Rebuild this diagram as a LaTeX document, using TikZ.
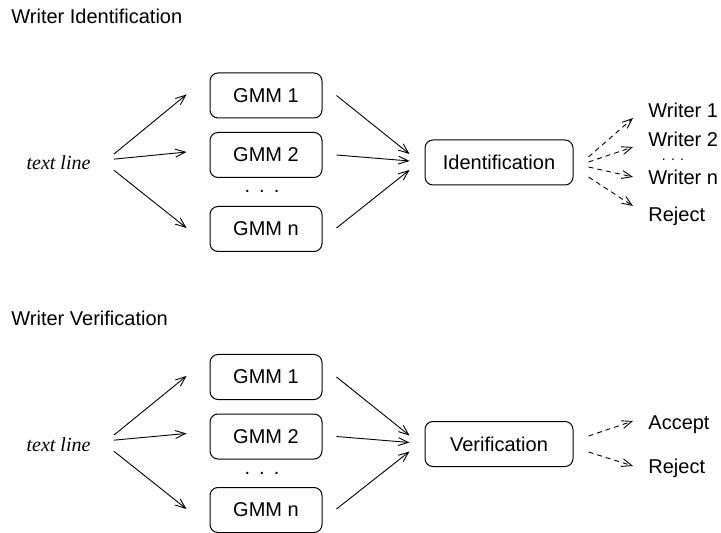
\documentclass[tikz,border=0pt]{standalone}
\usepackage{fontspec}
\setmainfont{Liberation Sans}
\newfontfamily\timesfont{Liberation Serif}
\usetikzlibrary{arrows.meta,calc}
\begin{document}
\begin{tikzpicture}[x=0.5pt,y=-0.5pt,
  font=\fontsize{10}{12}\selectfont,
  box/.style={draw,rounded corners=4pt,inner sep=0pt,minimum height=22.5pt,line width=0.5pt},
  gmm/.style={box,minimum width=56pt},
  dec/.style={box,minimum width=74pt},
  lbl/.style={inner sep=0pt,anchor=base west},
  tline/.style={inner sep=0pt,anchor=base,font=\fontsize{10}{12}\timesfont\itshape},
  dots/.style={inner sep=0pt,anchor=base},
  smalldots/.style={inner sep=0pt,anchor=base,font=\fontsize{7}{8}\selectfont},
  arr/.style={-{Straight Barb[length=5pt,width=4pt]},line width=0.45pt},
  darr/.style={arr,dash pattern=on 2.5pt off 2pt}]
\useasboundingbox (0,0) rectangle (721,533);
% ---------- top ----------
\node[lbl] (t1) at (11,24) {Writer Identification};
\node[tline] (tl1) at (58.5,170) {text line};
\node[gmm] (a1) at (266,95.5) {GMM 1};
\node[gmm] (a2) at (266,155) {GMM 2};
\node[gmm] (an) at (266,229) {GMM n};
\node[dots] (ad) at (262,193) {.\hspace{4.5pt}.\hspace{4.5pt}.};
\node[dec] (id) at (499,162.5) {Identification};
\node[lbl] (w1) at (648,118) {Writer 1};
\node[lbl] (w2) at (648,147) {Writer 2};
\node[smalldots] (wd) at (673,161) {. . .};
\node[lbl] (wn) at (648,185) {Writer n};
\node[lbl] (rj1) at (648,222) {Reject};
\draw[arr] ($(tl1.east)+(23,-9)$) -- ($(a1.west)+(-23,-1)$);
\draw[arr] ($(tl1.east)+(23,-4)$) -- ($(a2.west)+(-23,-3)$);
\draw[arr] ($(tl1.east)+(23,7)$) -- ($(an.west)+(-23,-1)$);
\draw[arr] ($(a1.east)+(14,0)$) -- ($(id.west)+(-15,-8.5)$);
\draw[arr] ($(a2.east)+(14,0)$) -- ($(id.west)+(-15,-1.5)$);
\draw[arr] ($(an.east)+(14,-1)$) -- ($(id.west)+(-15,7.5)$);
\draw[darr] ($(id.east)+(15,-5.5)$) -- ($(w1.base west)+(-15,0)$);
\draw[darr] ($(id.east)+(15,-0.5)$) -- ($(w2.base west)+(-15,0)$);
\draw[darr] ($(id.east)+(15,4.5)$) -- ($(wn.base west)+(-15,-8)$);
\draw[darr] ($(id.east)+(15,14.5)$) -- ($(rj1.base west)+(-15,-16)$);
% ---------- bottom ----------
\node[lbl] (t2) at (11,326) {Writer Verification};
\node[tline] (tl2) at (58.5,451) {text line};
\node[gmm] (b1) at (266,377) {GMM 1};
\node[gmm] (b2) at (266,436.5) {GMM 2};
\node[gmm] (bn) at (266,510) {GMM n};
\node[dots] (bd) at (262,474.5) {.\hspace{4.5pt}.\hspace{4.5pt}.};
\node[dec] (ver) at (499,444) {Verification};
\node[lbl] (acc) at (648,429) {Accept};
\node[lbl] (rj2) at (648,473) {Reject};
\draw[arr] ($(tl2.east)+(23,-9)$) -- ($(b1.west)+(-23,-1)$);
\draw[arr] ($(tl2.east)+(23,-4)$) -- ($(b2.west)+(-23,-3)$);
\draw[arr] ($(tl2.east)+(23,7)$) -- ($(bn.west)+(-23,-1)$);
\draw[arr] ($(b1.east)+(14,0)$) -- ($(ver.west)+(-15,-8.5)$);
\draw[arr] ($(b2.east)+(14,0)$) -- ($(ver.west)+(-15,-1.5)$);
\draw[arr] ($(bn.east)+(14,-1)$) -- ($(ver.west)+(-15,7.5)$);
\draw[darr] ($(ver.east)+(15,-8)$) -- ($(acc.base west)+(-15,-8)$);
\draw[darr] ($(ver.east)+(15,8)$) -- ($(rj2.base west)+(-15,-7)$);
\end{tikzpicture}
\end{document}
